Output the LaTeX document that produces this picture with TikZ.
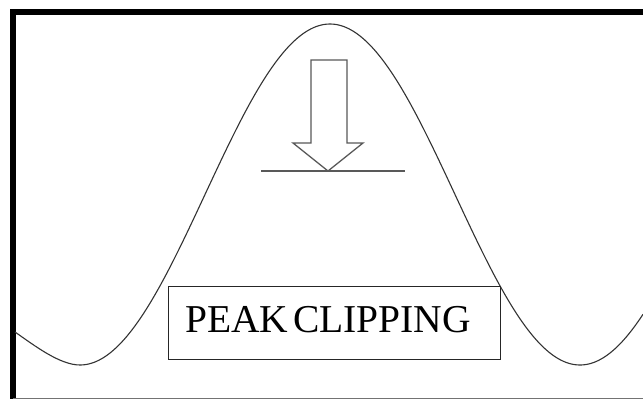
\documentclass[tikz,border=0pt]{standalone}
\usepackage{fontspec}
\setmainfont{Liberation Serif}
\begin{document}
\begin{tikzpicture}[x=1pt,y=-1pt,
  frame/.style={line width=6pt,black},
  wave/.style={line width=1.1pt,draw=black!80},
  arrowshape/.style={line width=1.3pt,draw=black!65,line join=miter},
  level/.style={line width=1.5pt,draw=black!65},
  labelbox/.style={draw=black!85,line width=1pt,minimum width=332pt,minimum height=73pt,inner sep=0pt},
  labeltext/.style={font=\fontsize{39.5}{44}\selectfont,inner sep=0pt,anchor=base}]
\fill[white] (0,0) rectangle (643,399);
\useasboundingbox (0,0) rectangle (643,399);
% frame
\draw[frame] (13,399) -- (13,12) -- (643,12);
\draw[black!55,line width=1pt] (13,398) -- (643,398);
% wave
\draw[wave] (15,332) .. controls (35,346) and (60,365) .. (80,365);
\draw[wave] plot[domain=80:643,samples=240,smooth] (\x,{194.5-170.5*cos(0.72*(\x-330))});
% arrow
\draw[arrowshape] (311,60) -- (347,60) -- (347,143) -- (363,143) -- (328,171) -- (293,143) -- (311,143) -- cycle;
\coordinate (l1) at (261,171);
\coordinate (l2) at (405,171);
\draw[level] (l1) -- (l2);
% label
\node[labelbox] (box) at (334,322.5) {};
\node[labeltext] (txt) at (328,332) {PEAK\hspace{5pt}CLIPPING};
\end{tikzpicture}
\end{document}
